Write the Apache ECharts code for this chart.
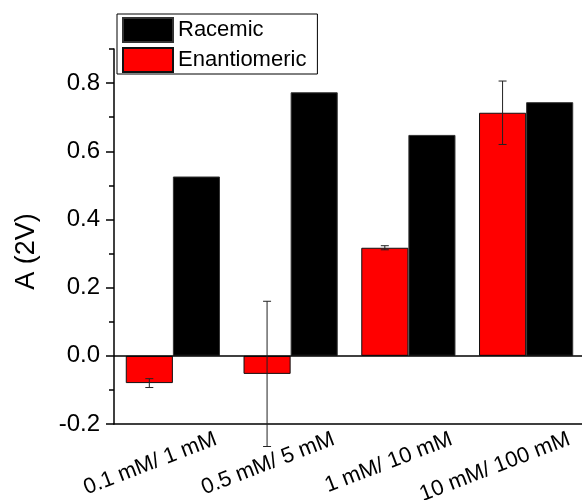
<!DOCTYPE html>
<html>
<head>
<meta charset="utf-8">
<title>A (2V)</title>
<script src="https://cdn.jsdelivr.net/npm/echarts@6/dist/echarts.min.js"></script>
<style>
html, body { margin: 0; padding: 0; background: #fff; }
#container { width: 582px; height: 500px; }
</style>
</head>
<body>
<div id="container"></div>
<script type="text/javascript">
// data
var categories = ['0.1 mM/ 1 mM', '0.5 mM/ 5 mM', '1 mM/ 10 mM', '10 mM/ 100 mM'];
var racemic = [0.526, 0.773, 0.648, 0.744];
var enantiomeric = [-0.080, -0.053, 0.317, 0.713];
var enantiomericErr = [0.013, 0.213, 0.006, 0.093];
var yTicks = [-0.2, 0.0, 0.2, 0.4, 0.6, 0.8];
var yMinorTicks = [-0.1, 0.1, 0.3, 0.5, 0.7, 0.9];

var font = 'Liberation Sans, Arial, sans-serif';

// error bar rows: [index, low, high]
var errData = [];
for (var i = 0; i < enantiomeric.length; i++) {
	errData.push([i, enantiomeric[i] - enantiomericErr[i], enantiomeric[i] + enantiomericErr[i]]);
}

function renderErr(params, api) {
	var idx = api.value(0);
	var lo = api.coord([idx, api.value(1)]);
	var hi = api.coord([idx, api.value(2)]);
	var band = api.size([1, 0])[0];
	var x = hi[0] - band * 0.2; // centre of the left (red) bar
	var cap = 4;
	var style = { stroke: '#222', lineWidth: 1 };
	return {
		type: 'group',
		children: [
			{ type: 'line', shape: { x1: x, y1: hi[1], x2: x, y2: lo[1] }, style: style },
			{ type: 'line', shape: { x1: x - cap, y1: hi[1], x2: x + cap, y2: hi[1] }, style: style },
			{ type: 'line', shape: { x1: x - cap, y1: lo[1], x2: x + cap, y2: lo[1] }, style: style }
		]
	};
}

var myChart = echarts.init(document.getElementById('container'));

var option = {
	animation: false,
	backgroundColor: '#fff',
	textStyle: { fontFamily: font, color: '#000' },
	grid: { left: 114, top: 49, width: 471, height: 375, outerBoundsMode: 'none' },
	legend: {
		data: ['Racemic', 'Enantiomeric'],
		orient: 'vertical',
		left: 117,
		top: 14,
		icon: 'rect',
		itemWidth: 50,
		itemHeight: 24,
		itemGap: 4,
		padding: [3, 11, 1, 5],
		borderColor: '#000',
		borderWidth: 1,
		textStyle: { fontFamily: font, fontSize: 22, color: '#000' }
	},
	xAxis: {
		type: 'category',
		data: categories,
		axisLine: { onZero: false, lineStyle: { color: '#000', width: 1.5 } },
		axisTick: { alignWithLabel: true, length: 8, lineStyle: { color: '#000', width: 1.5 } },
		axisLabel: {
			interval: 0,
			rotate: 21,
			margin: 31,
			padding: [0, -46, 0, 0],
			fontFamily: font,
			fontSize: 22,
			color: '#000'
		},
		splitLine: { show: false }
	},
	yAxis: [{
		type: 'value',
		min: -0.2,
		max: 0.9,
		name: 'A (2V)',
		nameLocation: 'middle',
		nameGap: 74,
		nameTextStyle: { fontFamily: font, fontSize: 27, color: '#000', padding: [0, 30, 0, 0] },
		axisLine: { show: true, lineStyle: { color: '#000', width: 1.5 } },
		axisTick: { show: true, length: 8, customValues: yTicks, lineStyle: { color: '#000', width: 1.5 } },
		axisLabel: {
			customValues: yTicks,
			margin: 14,
			fontFamily: font,
			fontSize: 24,
			color: '#000',
			formatter: function (v) { return v.toFixed(1); }
		},
		splitLine: { show: false }
	}, {
		// minor ticks only
		type: 'value',
		position: 'left',
		min: -0.2,
		max: 0.9,
		axisLine: { show: false },
		axisTick: { show: true, length: 5, customValues: yMinorTicks, lineStyle: { color: '#000', width: 1.5 } },
		axisLabel: { show: false },
		splitLine: { show: false }
	}],
	series: [{
		name: 'Enantiomeric',
		type: 'bar',
		data: enantiomeric,
		barGap: '0%',
		barCategoryGap: '20%',
		itemStyle: { color: '#ff0000', borderColor: '#111', borderWidth: 1 },
		markLine: {
			silent: true,
			symbol: 'none',
			label: { show: false },
			lineStyle: { color: '#000', width: 1.5, type: 'solid' },
			data: [{ yAxis: 0 }]
		}
	}, {
		name: 'Racemic',
		type: 'bar',
		data: racemic,
		barGap: '0%',
		barCategoryGap: '20%',
		itemStyle: { color: '#000', borderColor: '#333', borderWidth: 1 }
	}, {
		name: 'err',
		type: 'custom',
		renderItem: renderErr,
		data: errData,
		z: 10,
		encode: { x: 0, y: [1, 2] }
	}]
};

myChart.setOption(option, true);
</script>
</body>
</html>
